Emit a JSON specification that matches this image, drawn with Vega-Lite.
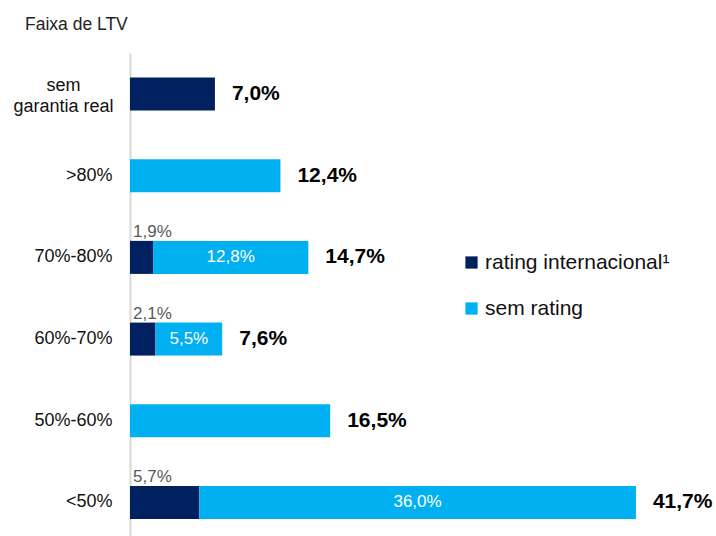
{
  "$schema": "https://vega.github.io/schema/vega-lite/v6.json",
  "autosize": {"type": "none"},
  "padding": {"left": 130, "top": 53, "right": 0, "bottom": 0},
  "width": 586,
  "height": 483,
  "background": "white",
  "title": {"text": "Faixa de LTV", "anchor": "start", "frame": "group", "dx": -105, "offset": 20, "fontSize": 17.5, "fontWeight": "normal", "font": "Liberation Sans", "color": "#222222"},
  "config": {
    "locale": {"number": {"decimal": ",", "thousands": ".", "grouping": [3], "currency": ["R$", ""]}},
    "view": {"stroke": null},
    "font": "Liberation Sans"
  },
  "data": {"values": [
    {"faixa": "sem garantia real", "tipo": "rating internacional¹", "valor": 0.070},
    {"faixa": ">80%", "tipo": "sem rating", "valor": 0.124},
    {"faixa": "70%-80%", "tipo": "rating internacional¹", "valor": 0.019},
    {"faixa": "70%-80%", "tipo": "sem rating", "valor": 0.128},
    {"faixa": "60%-70%", "tipo": "rating internacional¹", "valor": 0.021},
    {"faixa": "60%-70%", "tipo": "sem rating", "valor": 0.055},
    {"faixa": "50%-60%", "tipo": "sem rating", "valor": 0.165},
    {"faixa": "<50%", "tipo": "rating internacional¹", "valor": 0.057},
    {"faixa": "<50%", "tipo": "sem rating", "valor": 0.360}
  ]},
  "transform": [
    {"stack": "valor", "groupby": ["faixa"], "sort": [{"field": "tipo"}], "as": ["x0", "x1"]},
    {"joinaggregate": [{"op": "count", "as": "n"}, {"op": "sum", "field": "valor", "as": "total"}], "groupby": ["faixa"]}
  ],
  "encoding": {
    "y": {
      "field": "faixa", "type": "nominal",
      "sort": ["sem garantia real", ">80%", "70%-80%", "60%-70%", "50%-60%", "<50%"],
      "scale": {"paddingInner": 0.596, "paddingOuter": 0.254, "align": 0.59},
      "axis": {
        "title": null, "ticks": false, "domainColor": "#d9d9d9", "domainWidth": 2,
        "labelFontSize": 18, "labelColor": "#111111",
        "labelPadding": {"condition": {"test": "datum.value == 'sem garantia real'", "value": 67}, "value": 18},
        "labelAlign": {"condition": {"test": "datum.value == 'sem garantia real'", "value": "center"}, "value": "right"},
        "labelOffset": {"condition": {"test": "datum.value == 'sem garantia real'", "value": -8}, "value": 0},
        "labelFont": "Liberation Sans",
        "labelLineHeight": 21,
        "labelExpr": "datum.label == 'sem garantia real' ? ['sem', 'garantia real'] : datum.label"
      }
    }
  },
  "layer": [
    {
      "mark": {"type": "bar"},
      "encoding": {
        "x": {"field": "x0", "type": "quantitative", "scale": {"domain": [0, 0.483], "nice": false}, "axis": null},
        "x2": {"field": "x1"},
        "color": {
          "field": "tipo", "type": "nominal",
          "scale": {"domain": ["rating internacional¹", "sem rating"], "range": ["#002060", "#00b0f0"]},
          "legend": {
            "title": null, "orient": "none", "legendX": 331, "legendY": 199,
            "symbolType": "square", "symbolSize": 150, "symbolStrokeWidth": 0,
            "labelFontSize": 21, "labelColor": "#111111", "labelFont": "Liberation Sans",
            "labelLimit": 400,
            "rowPadding": 24, "labelOffset": 3
          }
        }
      }
    },
    {
      "transform": [{"filter": "datum.n == 2 && datum.tipo == 'rating internacional¹'"}],
      "mark": {"type": "text", "align": "left", "baseline": "alphabetic", "dx": 3, "dy": -4, "fontSize": 17, "color": "#595959"},
      "encoding": {
        "x": {"field": "x0", "type": "quantitative"},
        "y": {"field": "faixa", "type": "nominal", "sort": ["sem garantia real", ">80%", "70%-80%", "60%-70%", "50%-60%", "<50%"], "bandPosition": 0},
        "text": {"field": "valor", "type": "quantitative", "format": ".1%"}
      }
    },
    {
      "transform": [{"filter": "datum.n == 2 && datum.tipo == 'sem rating'"}, {"calculate": "(datum.x0 + datum.x1) / 2", "as": "xm"}],
      "mark": {"type": "text", "align": "center", "baseline": "middle", "fontSize": 17, "color": "white"},
      "encoding": {
        "x": {"field": "xm", "type": "quantitative"},
        "text": {"field": "valor", "type": "quantitative", "format": ".1%"}
      }
    },
    {
      "transform": [{"filter": "datum.x1 == datum.total"}],
      "mark": {"type": "text", "align": "left", "baseline": "middle", "dx": 17, "fontSize": 21, "fontWeight": "bold", "color": "#000000"},
      "encoding": {
        "x": {"field": "total", "type": "quantitative"},
        "text": {"field": "total", "type": "quantitative", "format": ".1%"}
      }
    }
  ]
}
